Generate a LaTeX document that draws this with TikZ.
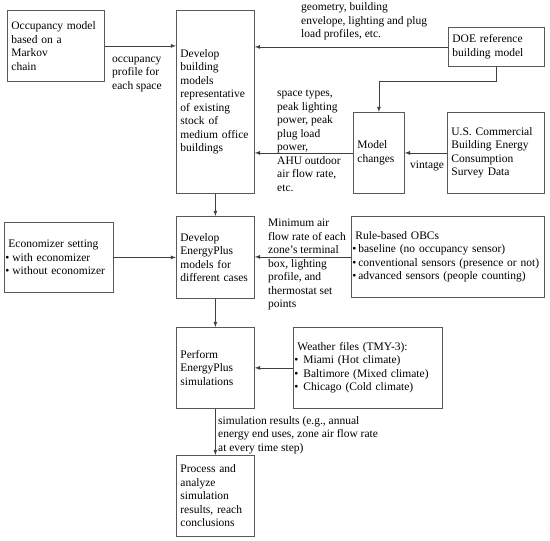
\documentclass[tikz,border=0pt]{standalone}
\usepackage{fontspec}
\setmainfont{Liberation Serif}
\usetikzlibrary{shapes,arrows,fit,calc,positioning}

% bullet line inside a box
\newcommand{\dotitem}[2][6pt]{\hspace*{-3pt}\makebox[#1][l]{\textbullet}#2}

\begin{document}
\begin{tikzpicture}[x=1pt,y=-1pt,
  box/.style={draw=black!65,line width=0.8pt,anchor=north west,align=left,inner sep=4pt,font=\fontsize{11.5}{13.5}\selectfont},
  lbl/.style={anchor=north west,align=left,inner sep=0pt,font=\fontsize{11.5}{13.5}\selectfont,execute at begin node=\strut},
  conn/.style={-latex,line width=0.8pt,black!75}]

\useasboundingbox (0,0) rectangle (550,541);

% Main chain of boxes
\node[box,minimum width=78pt,minimum height=183pt,text width=70pt] (bldg) at (176,10) {Develop\\ building\\ models\\ representative\\ of existing\\ stock of\\ medium office\\ buildings};
\node[box,minimum width=78pt,minimum height=82pt,text width=70pt] (dev) at (176,216) {Develop\\ EnergyPlus\\ models for\\ different cases};
\node[box,minimum width=78pt,minimum height=81pt,text width=70pt] (sim) at (176,327) {Perform\\ EnergyPlus\\ simulations};
\node[box,minimum width=78pt,minimum height=81pt,text width=70pt] (proc) at (176,455) {Process and\\ analyze\\ simulation\\ results, reach\\ conclusions};

% Input boxes
\node[box,minimum width=97pt,minimum height=71pt,text width=89pt] (occ) at (7,10) {Occupancy model\\ based on a Markov\\ chain};
\node[box,minimum width=96pt,minimum height=39pt,text width=88pt] (doe) at (448,27) {DOE reference\\ building model};
\node[box,minimum width=51pt,minimum height=81pt,text width=43pt] (model) at (353,112) {Model\\ changes};
\node[box,minimum width=97pt,minimum height=81pt,text width=89pt] (us) at (447,112) {U.S. Commercial\\ Building Energy\\ Consumption\\ Survey Data};
\node[box,minimum width=109pt,minimum height=70pt,text width=101pt] (econ) at (4,222) {Economizer setting\\ \dotitem[7pt]{with economizer}\\ \dotitem[7pt]{without economizer}};
\node[box,minimum width=193pt,minimum height=81pt,text width=185pt] (obc) at (351,216) {Rule-based OBCs\\ \dotitem{baseline (no occupancy sensor)}\\ \dotitem{conventional sensors (presence or not)}\\ \dotitem{advanced sensors (people counting)}};
\node[box,minimum width=149pt,minimum height=81pt,text width=141pt] (weather) at (293,327) {Weather files (TMY-3):\\ \dotitem[9pt]{Miami (Hot climate)}\\ \dotitem[9pt]{Baltimore (Mixed climate)}\\ \dotitem[9pt]{Chicago (Cold climate)}};

% Connector labels
\node[lbl] (occlbl) at (112,56.5) {occupancy\\ profile for\\ each space};
\node[lbl] (geolbl) at (301,2.5) {geometry, building\\ envelope, lighting and plug\\ load profiles, etc.};
\node[lbl] (chglbl) at (277,90) {space types,\\ peak lighting\\ power, peak\\ plug load\\ power,\\ AHU outdoor\\ air flow rate,\\ etc.};
\node[lbl] (vinlbl) at (410,158.5) {vintage};
\node[lbl] (minlbl) at (268,219) {Minimum air\\ flow rate of each\\ zone’s terminal\\ box, lighting\\ profile, and\\ thermostat set\\ points};
\node[lbl] (simlbl) at (218,416) {simulation results (e.g., annual\\ energy end uses, zone air flow rate\\ at every time step)};

% Connectors
\draw[conn] (occ.east) -- (occ.east -| bldg.west);
\draw[conn] (doe.west) -- (doe.west -| bldg.east);
\draw[conn] (doe.south) -- ++(0,15) -| (model.north);
\draw[conn] (us.west) -- (us.west -| model.east);
\draw[conn] (model.west) -- (model.west -| bldg.east);
\draw[conn] (bldg.south) -- (dev.north);
\draw[conn] (econ.east) -- (econ.east -| dev.west);
\draw[conn] (obc.west) -- (obc.west -| dev.east);
\draw[conn] (dev.south) -- (sim.north);
\draw[conn] (weather.west) -- (weather.west -| sim.east);
\draw[conn] (sim.south) -- (proc.north);

\end{tikzpicture}
\end{document}
